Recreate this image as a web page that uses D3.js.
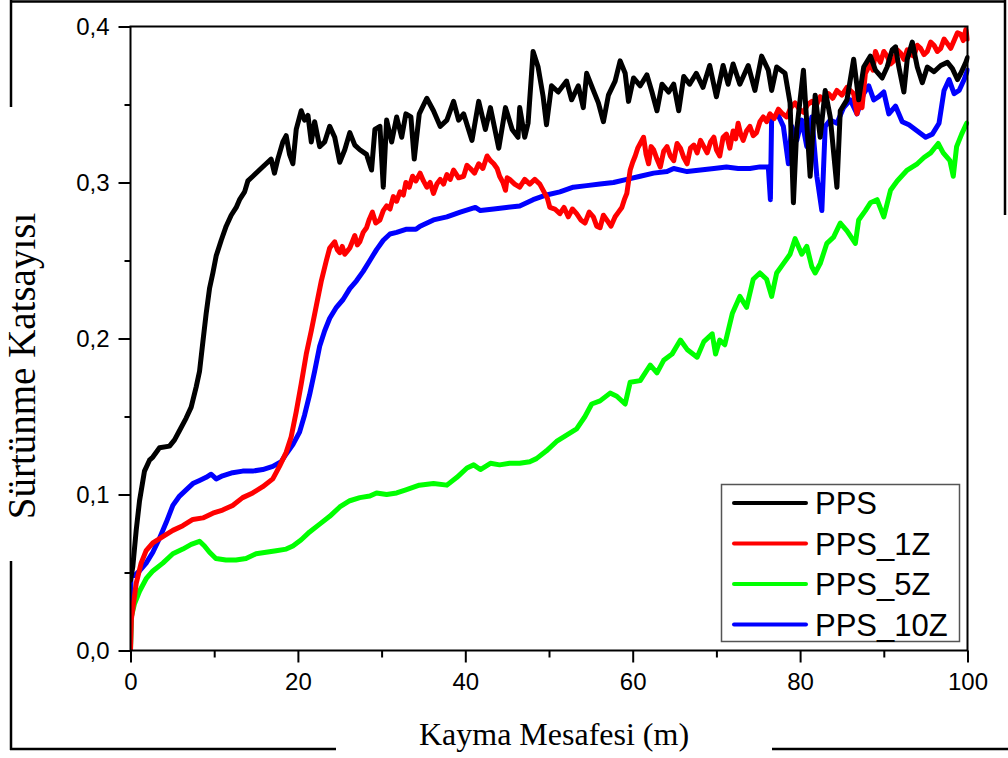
<!DOCTYPE html>
<html>
<head>
<meta charset="utf-8">
<script src="https://cdn.jsdelivr.net/npm/d3@7"></script>
<style>
  html, body { margin: 0; padding: 0; background: #fff; }
  svg { display: block; }
</style>
</head>
<body>
<svg id="chart" width="1008" height="758"></svg>
<script>
// Friction coefficient vs sliding distance, [distance (m), coefficient]
const pps = [[0,0.045],[0.28,0.054],[0.68,0.077],[1.08,0.096],[1.67,0.115],[2.27,0.122],[2.67,0.124],[3.47,0.130],[4.66,0.131],[5.26,0.135],[5.86,0.141],[6.65,0.149],[7.25,0.156],[7.85,0.169],[8.25,0.179],[8.65,0.198],[9.04,0.216],[9.44,0.232],[9.84,0.242],[10.24,0.253],[10.84,0.263],[11.43,0.272],[12.03,0.279],[12.63,0.284],[13.03,0.289],[13.63,0.294],[14.02,0.301],[14.62,0.304],[15.4,0.308],[16.2,0.312],[16.8,0.315],[17.2,0.306],[17.6,0.315],[18.2,0.326],[18.6,0.330],[19.0,0.318],[19.4,0.312],[19.8,0.334],[20.4,0.346],[20.8,0.340],[21.2,0.343],[21.6,0.326],[22.0,0.339],[22.6,0.323],[23.2,0.326],[23.8,0.336],[24.4,0.329],[25.0,0.313],[25.6,0.321],[26.2,0.332],[26.8,0.324],[27.4,0.321],[28.2,0.318],[28.8,0.308],[29.2,0.334],[29.8,0.336],[30.2,0.297],[30.6,0.340],[31.2,0.326],[31.8,0.342],[32.4,0.329],[32.9,0.344],[33.5,0.342],[33.9,0.315],[34.5,0.344],[35.4,0.354],[36.2,0.346],[37.0,0.336],[37.8,0.340],[38.6,0.352],[39.2,0.340],[39.8,0.344],[40.8,0.327],[41.6,0.352],[42.4,0.334],[43.0,0.348],[44.0,0.322],[44.8,0.348],[45.6,0.334],[46.3,0.329],[46.5,0.348],[47.1,0.329],[47.5,0.338],[48.1,0.384],[48.7,0.374],[49.3,0.355],[49.7,0.337],[50.3,0.362],[51.1,0.358],[52.1,0.365],[52.7,0.353],[53.5,0.362],[54.1,0.348],[54.5,0.370],[55.3,0.359],[55.9,0.351],[56.5,0.339],[57.1,0.356],[57.9,0.365],[58.5,0.378],[59.1,0.370],[59.5,0.352],[60.1,0.367],[60.9,0.362],[61.7,0.369],[62.3,0.358],[62.9,0.346],[63.5,0.363],[64.3,0.358],[64.9,0.363],[65.5,0.346],[66.1,0.368],[66.8,0.363],[67.6,0.370],[68.4,0.361],[69.2,0.375],[70.0,0.355],[70.8,0.375],[71.4,0.363],[72.0,0.376],[72.8,0.363],[73.8,0.375],[74.6,0.359],[75.4,0.381],[76.2,0.372],[76.6,0.359],[77.2,0.374],[78.2,0.370],[78.8,0.351],[79.2,0.287],[79.6,0.334],[80.4,0.372],[80.8,0.338],[81.2,0.304],[81.8,0.356],[82.4,0.329],[83.0,0.359],[83.6,0.342],[84.4,0.297],[84.8,0.346],[85.6,0.353],[86.4,0.379],[87.0,0.353],[87.6,0.374],[88.4,0.381],[89.0,0.372],[89.8,0.367],[90.4,0.374],[91.0,0.385],[91.4,0.387],[91.8,0.374],[92.4,0.358],[92.8,0.379],[93.4,0.390],[94.0,0.374],[94.6,0.364],[95.2,0.374],[96.0,0.371],[96.8,0.375],[97.6,0.377],[98.2,0.373],[98.8,0.366],[99.2,0.370],[99.8,0.377],[100,0.380]];

const pps1Z = [[0,0.0],[0.1,0.020],[0.28,0.027],[0.68,0.043],[1.27,0.056],[1.87,0.064],[2.67,0.069],[3.86,0.073],[5.06,0.077],[6.25,0.080],[7.45,0.084],[8.65,0.085],[9.84,0.088],[11.0,0.090],[12.2,0.093],[13.4,0.098],[14.6,0.101],[15.8,0.105],[17.0,0.110],[17.8,0.118],[18.6,0.127],[19.2,0.137],[19.8,0.153],[20.4,0.171],[21.0,0.190],[21.6,0.205],[22.2,0.221],[22.8,0.237],[23.4,0.250],[23.8,0.258],[24.4,0.262],[24.7,0.257],[25.0,0.255],[25.3,0.259],[25.6,0.254],[25.9,0.256],[26.2,0.258],[26.5,0.262],[26.8,0.266],[27.1,0.260],[27.4,0.262],[27.8,0.268],[28.2,0.271],[28.5,0.276],[28.9,0.281],[29.3,0.274],[29.8,0.276],[30.2,0.282],[30.6,0.285],[31.0,0.283],[31.4,0.291],[31.8,0.288],[32.2,0.294],[32.6,0.292],[32.9,0.300],[33.3,0.297],[33.7,0.304],[34.1,0.301],[34.6,0.306],[35.0,0.301],[35.4,0.297],[35.8,0.300],[36.2,0.293],[36.6,0.299],[37.0,0.302],[37.4,0.299],[37.8,0.305],[38.2,0.302],[38.6,0.308],[39.2,0.303],[39.8,0.304],[40.2,0.311],[40.6,0.309],[41.1,0.306],[41.6,0.312],[42.1,0.309],[42.6,0.317],[43.0,0.314],[43.4,0.312],[43.8,0.309],[44.1,0.304],[44.5,0.300],[44.8,0.295],[45.0,0.303],[45.3,0.302],[45.9,0.299],[46.5,0.297],[47.1,0.302],[47.7,0.299],[48.3,0.302],[48.9,0.299],[49.5,0.293],[49.8,0.290],[50.1,0.284],[50.7,0.283],[51.3,0.280],[51.8,0.284],[52.3,0.278],[52.8,0.283],[53.3,0.280],[53.8,0.276],[54.3,0.274],[54.8,0.281],[55.3,0.278],[55.7,0.272],[56.1,0.271],[56.5,0.279],[56.9,0.276],[57.4,0.272],[57.9,0.278],[58.3,0.281],[58.7,0.284],[59.0,0.289],[59.3,0.293],[59.7,0.308],[60.0,0.313],[60.3,0.317],[60.6,0.322],[60.9,0.325],[61.3,0.329],[61.6,0.318],[61.9,0.312],[62.2,0.323],[62.5,0.321],[62.9,0.315],[63.3,0.310],[63.7,0.320],[64.1,0.323],[64.5,0.317],[64.9,0.314],[65.3,0.325],[65.7,0.322],[66.1,0.316],[66.5,0.312],[66.9,0.322],[67.3,0.324],[67.7,0.319],[68.1,0.327],[68.5,0.323],[68.9,0.319],[69.3,0.326],[69.7,0.329],[70.0,0.321],[70.4,0.317],[70.8,0.329],[71.2,0.331],[71.6,0.322],[72.0,0.333],[72.3,0.328],[72.6,0.338],[72.9,0.331],[73.2,0.327],[73.6,0.333],[74.0,0.336],[74.4,0.330],[74.8,0.332],[75.2,0.339],[75.6,0.342],[76.0,0.339],[76.4,0.344],[76.9,0.341],[77.4,0.347],[77.9,0.344],[78.4,0.342],[78.9,0.348],[79.4,0.351],[79.9,0.347],[80.4,0.345],[80.9,0.350],[81.4,0.352],[81.9,0.349],[82.4,0.355],[82.9,0.352],[83.4,0.357],[83.9,0.354],[84.4,0.359],[85.0,0.356],[85.6,0.361],[86.0,0.359],[86.4,0.357],[86.8,0.344],[87.1,0.352],[87.4,0.348],[87.8,0.370],[88.1,0.373],[88.4,0.376],[88.7,0.372],[89.0,0.384],[89.3,0.380],[89.6,0.377],[90.0,0.384],[90.4,0.381],[90.8,0.376],[91.2,0.378],[91.6,0.385],[92.0,0.383],[92.4,0.379],[92.8,0.385],[93.2,0.382],[93.6,0.381],[94.0,0.388],[94.4,0.386],[94.8,0.382],[95.2,0.384],[95.6,0.390],[96.0,0.388],[96.4,0.384],[96.8,0.386],[97.2,0.392],[97.6,0.389],[98.0,0.386],[98.4,0.391],[98.8,0.396],[99.2,0.395],[99.5,0.391],[99.8,0.398],[100,0.392]];

const pps5Z = [[0,0.0],[0.12,0.022],[0.48,0.030],[1.08,0.038],[1.87,0.046],[2.67,0.051],[3.86,0.056],[5.06,0.062],[6.25,0.065],[7.25,0.068],[8.25,0.070],[8.84,0.067],[9.44,0.063],[10.2,0.059],[11.4,0.058],[12.6,0.058],[13.8,0.059],[15.0,0.062],[16.2,0.063],[17.4,0.064],[18.6,0.065],[19.4,0.067],[20.4,0.071],[21.4,0.076],[22.6,0.081],[23.8,0.086],[25.0,0.092],[26.2,0.096],[27.4,0.098],[28.6,0.099],[29.4,0.101],[30.6,0.100],[31.8,0.101],[32.9,0.103],[34.5,0.106],[36.2,0.107],[37.8,0.106],[39.0,0.111],[40.2,0.117],[41.0,0.119],[41.8,0.116],[43.0,0.120],[44.1,0.119],[45.3,0.120],[46.5,0.120],[47.7,0.121],[48.5,0.123],[49.7,0.128],[50.9,0.134],[52.1,0.138],[53.3,0.142],[54.3,0.150],[55.1,0.158],[56.1,0.160],[57.3,0.165],[58.1,0.163],[59.1,0.158],[59.7,0.172],[60.9,0.173],[62.1,0.183],[62.9,0.178],[63.7,0.186],[64.7,0.190],[65.7,0.199],[66.5,0.193],[67.7,0.188],[68.5,0.198],[69.5,0.203],[69.9,0.190],[70.4,0.199],[71.0,0.196],[71.9,0.216],[72.8,0.227],[73.6,0.220],[74.4,0.238],[75.2,0.242],[76.0,0.238],[76.6,0.227],[77.2,0.242],[78.0,0.248],[78.8,0.254],[79.4,0.264],[80.2,0.254],[80.8,0.259],[81.4,0.246],[81.8,0.242],[82.4,0.248],[83.2,0.261],[84.0,0.265],[84.8,0.274],[85.6,0.269],[86.6,0.261],[87.0,0.276],[87.8,0.282],[88.4,0.287],[89.2,0.289],[90.0,0.278],[90.8,0.295],[91.6,0.301],[92.8,0.308],[94.0,0.312],[94.8,0.316],[95.6,0.319],[96.5,0.325],[97.1,0.319],[97.9,0.314],[98.3,0.304],[98.7,0.323],[99.3,0.331],[99.9,0.338]];

const pps10Z = [[0,0.0],[0.05,0.048],[0.48,0.048],[1.08,0.051],[1.87,0.056],[2.67,0.063],[3.47,0.072],[4.26,0.082],[5.06,0.093],[5.86,0.099],[6.65,0.103],[7.45,0.107],[8.25,0.109],[9.04,0.111],[9.64,0.113],[10.24,0.110],[11.0,0.112],[12.2,0.114],[13.4,0.115],[14.6,0.115],[15.8,0.116],[17.0,0.118],[18.0,0.121],[18.6,0.126],[19.4,0.132],[20.2,0.140],[20.8,0.151],[21.4,0.164],[22.0,0.179],[22.6,0.195],[23.2,0.205],[23.8,0.213],[24.6,0.220],[25.4,0.225],[26.2,0.232],[27.0,0.237],[27.8,0.243],[28.6,0.250],[29.4,0.257],[30.2,0.263],[31.0,0.267],[31.8,0.268],[32.9,0.270],[34.1,0.270],[34.6,0.272],[36.2,0.276],[37.8,0.278],[39.4,0.281],[41.2,0.284],[41.8,0.282],[43.4,0.283],[44.9,0.284],[46.5,0.285],[48.1,0.289],[49.7,0.292],[51.3,0.294],[52.9,0.297],[54.5,0.298],[56.1,0.299],[57.7,0.300],[59.3,0.302],[60.9,0.304],[62.5,0.306],[64.1,0.307],[64.9,0.309],[66.5,0.307],[68.1,0.308],[69.7,0.309],[71.2,0.310],[72.6,0.309],[74.0,0.309],[75.2,0.310],[76.2,0.310],[76.45,0.289],[76.6,0.342],[77.4,0.343],[78.0,0.336],[78.6,0.312],[79.0,0.336],[79.6,0.327],[80.2,0.340],[80.8,0.323],[81.4,0.342],[82.0,0.304],[82.6,0.282],[83.0,0.336],[83.6,0.340],[84.4,0.338],[85.2,0.348],[86.0,0.353],[86.8,0.344],[87.6,0.357],[88.2,0.362],[88.8,0.353],[89.4,0.355],[90.0,0.358],[90.6,0.344],[91.4,0.349],[92.2,0.339],[93.0,0.337],[94.0,0.333],[95.0,0.329],[95.8,0.331],[96.6,0.338],[97.2,0.359],[97.8,0.366],[98.4,0.357],[99.0,0.359],[99.6,0.366],[100,0.372]];

const seriesNames = ["PPS", "PPS_1Z", "PPS_5Z", "PPS_10Z"];
const seriesColors = ["#000000", "#ff0000", "#00ff00", "#0000ff"];
const seriesData = [pps, pps1Z, pps5Z, pps10Z];
// draw order: green under red/blue/black
const drawOrder = [2, 3, 1, 0];

const xMajorTicks = [0, 20, 40, 60, 80, 100];
const xMinorTicks = [10, 30, 50, 70, 90];
const yMajorTicks = [0, 0.1, 0.2, 0.3, 0.4];
const yMinorTicks = [0.05, 0.15, 0.25, 0.35];

const xTitle = "Kayma Mesafesi (m)";
const yTitle = "Sürtünme Katsayısı";

const svg = d3.select("#chart");
const plot = { left: 130.5, right: 967.5, top: 26.5, bottom: 650.5 };

const x = d3.scaleLinear().domain([0, 100]).range([plot.left, plot.right]);
const y = d3.scaleLinear().domain([0, 0.4]).range([plot.bottom, plot.top]);

// page frame segments
const frame = svg.append("g").attr("stroke", "#000").attr("stroke-width", 2.5).attr("fill", "none");
frame.append("line").attr("x1", 10).attr("x2", 1006).attr("y1", 1.5).attr("y2", 1.5);
frame.append("line").attr("x1", 11).attr("x2", 11).attr("y1", 0).attr("y2", 107);
frame.append("line").attr("x1", 11).attr("x2", 11).attr("y1", 561).attr("y2", 750);
frame.append("line").attr("x1", 10).attr("x2", 336).attr("y1", 749).attr("y2", 749);
frame.append("line").attr("x1", 772).attr("x2", 1008).attr("y1", 749).attr("y2", 749);
frame.append("line").attr("x1", 1005).attr("x2", 1005).attr("y1", 0).attr("y2", 215);

svg.append("defs").append("clipPath").attr("id", "plotClip")
  .append("rect")
  .attr("x", plot.left).attr("y", plot.top - 4)
  .attr("width", plot.right - plot.left + 2).attr("height", plot.bottom - plot.top + 4);

const fmt = d => d.toFixed(1).replace(".", ",");
const axisFont = "'Liberation Sans', Arial, sans-serif";

// minor ticks
svg.append("g").attr("transform", `translate(0,${plot.bottom})`)
  .call(d3.axisBottom(x).tickValues(xMinorTicks).tickSize(7).tickFormat(""))
  .call(g => g.select(".domain").remove())
  .call(g => g.selectAll("line").attr("stroke-width", 2));
svg.append("g").attr("transform", `translate(${plot.left},0)`)
  .call(d3.axisLeft(y).tickValues(yMinorTicks).tickSize(6).tickFormat(""))
  .call(g => g.select(".domain").remove())
  .call(g => g.selectAll("line").attr("stroke-width", 2));

// major ticks + labels
svg.append("g").attr("transform", `translate(0,${plot.bottom})`)
  .call(d3.axisBottom(x).tickValues(xMajorTicks).tickSize(12).tickPadding(10).tickFormat(d3.format("d")))
  .call(g => g.select(".domain").remove())
  .call(g => g.selectAll("line").attr("stroke-width", 2))
  .call(g => g.selectAll("text").attr("font-family", axisFont).attr("font-size", 24).attr("fill", "#000"));
svg.append("g").attr("transform", `translate(${plot.left},0)`)
  .call(d3.axisLeft(y).tickValues(yMajorTicks).tickSize(12).tickPadding(9).tickFormat(fmt))
  .call(g => g.select(".domain").remove())
  .call(g => g.selectAll("line").attr("stroke-width", 2))
  .call(g => g.selectAll("text").attr("font-family", axisFont).attr("font-size", 24).attr("fill", "#000"));

// series
const line = d3.line().x(d => x(d[0])).y(d => y(d[1]));
const lines = svg.append("g").attr("clip-path", "url(#plotClip)");
drawOrder.forEach(i => {
  lines.append("path")
    .datum(seriesData[i])
    .attr("d", line)
    .attr("fill", "none")
    .attr("stroke", seriesColors[i])
    .attr("stroke-width", 5)
    .attr("stroke-linejoin", "round")
    .attr("stroke-linecap", "round");
});

// plot box
svg.append("rect")
  .attr("x", plot.left).attr("y", plot.top)
  .attr("width", plot.right - plot.left).attr("height", plot.bottom - plot.top)
  .attr("fill", "none").attr("stroke", "#000").attr("stroke-width", 2);

// legend
const legend = svg.append("g");
legend.append("rect")
  .attr("x", 721.5).attr("y", 484.5).attr("width", 238).attr("height", 157)
  .attr("fill", "#fff").attr("stroke", "#555").attr("stroke-width", 1.5);
seriesNames.forEach((name, i) => {
  const ly = 503 + i * 40.5;
  legend.append("line")
    .attr("x1", 734).attr("x2", 806).attr("y1", ly).attr("y2", ly)
    .attr("stroke", seriesColors[i]).attr("stroke-width", 4).attr("stroke-linecap", "round");
  legend.append("text")
    .attr("x", 815).attr("y", ly + 11)
    .attr("font-family", axisFont).attr("font-size", 31).attr("fill", "#000")
    .text(name);
});

// axis titles
svg.append("text")
  .attr("x", 554).attr("y", 745)
  .attr("text-anchor", "middle")
  .attr("font-family", "'Liberation Serif', 'Times New Roman', serif")
  .attr("font-size", 32).attr("fill", "#000")
  .text(xTitle);
svg.append("text")
  .attr("transform", "translate(35,366) rotate(-90)")
  .attr("text-anchor", "middle")
  .attr("font-family", "'Liberation Serif', 'Times New Roman', serif")
  .attr("font-size", 39).attr("fill", "#000")
  .text(yTitle);
</script>
</body>
</html>
